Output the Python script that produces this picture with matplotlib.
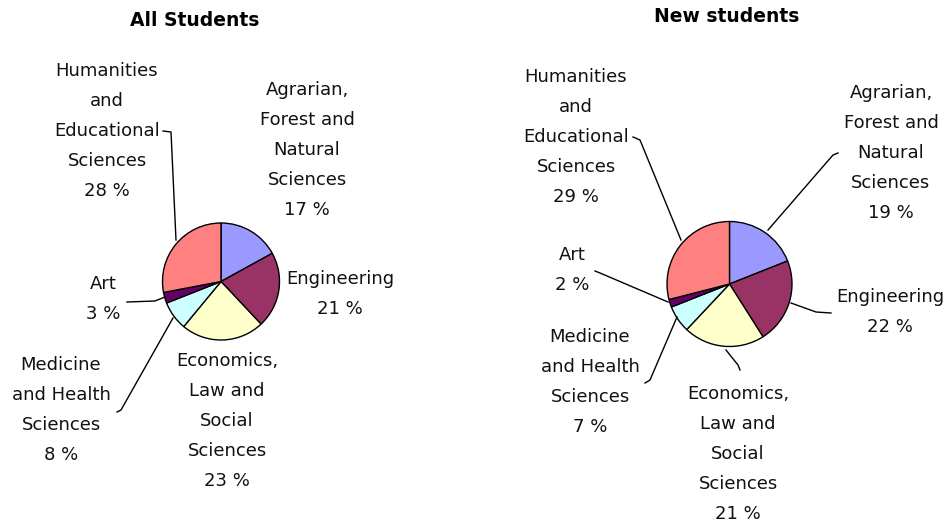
import matplotlib
matplotlib.use('Agg')
import matplotlib.pyplot as plt

W, H = 946, 522

fields = ['Agrarian,\nForest and\nNatural\nSciences',
          'Engineering',
          'Economics,\nLaw and\nSocial\nSciences',
          'Medicine\nand Health\nSciences',
          'Art',
          'Humanities\nand\nEducational\nSciences']
colors = ['#9999FF', '#993366', '#FFFFCC', '#CCFFFF', '#660066', '#FF8080']

all_students = [17, 21, 23, 8, 3, 28]
new_students = [19, 22, 21, 7, 2, 29]

# layout in pixels from the top-left corner
pies = [
    dict(title='All Students', values=all_students, center=(221, 281.5), r=58.5,
         title_xy=(195, 21),
         labels=[(307, 150), (340, 294), (227, 421), (61, 410), (103, 299), (107, 131)],
         leaders={5: [(163, 131), (171, 132), (176, 240)],
                  4: [(127, 302), (155, 301), (165, 297)],
                  3: [(117, 412), (121, 410), (173, 318)]}),
    dict(title='New students', values=new_students, center=(729.5, 284), r=62.5,
         title_xy=(727, 16),
         labels=[(891, 153), (890, 312), (738, 454), (590, 382), (572, 270), (576, 137)],
         leaders={5: [(633, 137), (640, 140), (681, 240)],
                  0: [(838, 153), (833, 155), (768, 230)],
                  1: [(831, 313), (816, 312), (791, 303)],
                  4: [(595, 271), (600, 273), (668, 302)],
                  3: [(645, 383), (650, 380), (677, 317)],
                  2: [(740, 370), (738, 365), (726, 350)]}),
]


def flip(x, y):
    return x, H - y


fig = plt.figure(figsize=(W / 100, H / 100), dpi=100)
ax = fig.add_axes([0, 0, 1, 1])

for p in pies:
    ax.pie(p['values'], colors=colors, startangle=90, counterclock=False,
           center=flip(*p['center']), radius=p['r'], frame=True,
           wedgeprops=dict(edgecolor='black', linewidth=1.0))
    tx, ty = flip(*p['title_xy'])
    ax.text(tx, ty, p['title'], ha='center', va='center',
            fontsize=13.5, fontweight='heavy')
    for i, (name, v) in enumerate(zip(fields, p['values'])):
        lx, ly = flip(*p['labels'][i])
        ax.text(lx, ly, '%s\n%d %%' % (name, v), ha='center', va='center',
                fontsize=13, linespacing=1.85, color='#111111')
    for pts in p['leaders'].values():
        xs = [q[0] for q in pts]
        ys = [H - q[1] for q in pts]
        ax.plot(xs, ys, color='black', linewidth=1.0)

ax.set_xlim(0, W)
ax.set_ylim(0, H)
ax.set_aspect('equal')
ax.axis('off')

fig.savefig('out.png', dpi=100, facecolor='white')
